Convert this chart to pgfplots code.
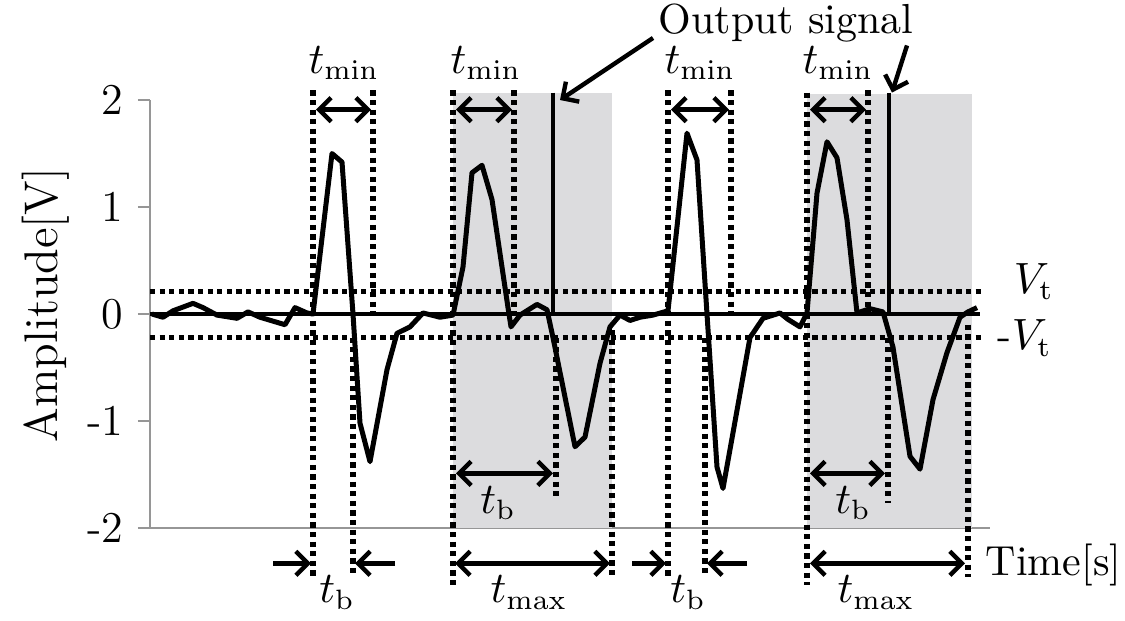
\documentclass[border=0pt]{standalone}
\usepackage{pgfplots}
\pgfplotsset{compat=1.18}
\usetikzlibrary{arrows.meta}
\definecolor{shade}{RGB}{220,220,222}
\definecolor{axgray}{RGB}{150,150,150}
\begin{document}
\fontsize{10.5}{12.6}\selectfont
\begin{tikzpicture}[
  dots/.style={line width=1.3pt, dash pattern=on 1.3pt off 1.1pt},
  arr/.style={line width=1.1pt, -{Straight Barb[length=3pt,width=6pt]}},
  darr/.style={line width=1.1pt, {Straight Barb[length=3pt,width=6pt]}-{Straight Barb[length=3pt,width=6pt]}}
]
\begin{axis}[
  scale only axis, width=210pt, height=107pt,
  xmin=150, xmax=990, ymin=-2, ymax=2,
  clip=false,
  axis x line*=bottom, axis y line*=left,
  axis line style={axgray, line width=0.5pt},
  xtick=\empty,
  ytick={-2,-1,0,1,2}, yticklabels={-2,-1,0,1,2},
  tick style={axgray, line width=0.5pt}, tick align=outside, major tick length=3pt,
  yticklabel style={font=\fontsize{11}{13}\selectfont, text=black},
]
% bounding box in pixel frame
\path (axis cs:0,2.935) rectangle (axis cs:1125,-2.86);
% shaded regions
\addplot[fill=shade, draw=none] coordinates {(453,-2) (453,2.07) (612,2.07) (612,-2)} -- cycle;
\addplot[fill=shade, draw=none] coordinates {(807,-2) (807,2.06) (972,2.06) (972,-2)} -- cycle;
% threshold lines
\draw[dots] (axis cs:150,0.21) -- (axis cs:982,0.21);
\draw[dots] (axis cs:150,-0.22) -- (axis cs:982,-0.22);
% vertical dotted lines
\draw[dots] (axis cs:313,2.09) -- (axis cs:313,-2.46);
\draw[dots] (axis cs:373,2.09) -- (axis cs:373,0);
\draw[dots] (axis cs:353,-0.22) -- (axis cs:353,-2.46);
\draw[dots] (axis cs:453,2.09) -- (axis cs:453,-2.53);
\draw[dots] (axis cs:514,2.09) -- (axis cs:514,0);
\draw[dots] (axis cs:556,-0.22) -- (axis cs:556,-1.74);
\draw[dots] (axis cs:612,-0.15) -- (axis cs:612,-2.46);
\draw[dots] (axis cs:668,2.09) -- (axis cs:668,-2.46);
\draw[dots] (axis cs:731,2.09) -- (axis cs:731,0);
\draw[dots] (axis cs:705,-0.22) -- (axis cs:705,-2.46);
\draw[dots] (axis cs:807,2.07) -- (axis cs:807,-2.53);
\draw[dots] (axis cs:868,2.09) -- (axis cs:868,0);
\draw[dots] (axis cs:888,-0.22) -- (axis cs:888,-1.77);
\draw[dots] (axis cs:968,-0.10) -- (axis cs:968,-2.46);
% zero line
\draw[line width=1.2pt] (axis cs:150,0) -- (axis cs:980,0);
% output signal lines
\draw[line width=1.1pt] (axis cs:553,2.07) -- (axis cs:553,0);
\draw[line width=1.1pt] (axis cs:889,2.07) -- (axis cs:889,0);
% signal
\addplot[black, line width=1.25pt, line join=round] coordinates {
(152,0.0) (163,-0.03) (173,0.03) (193,0.10) (203,0.06) (217,-0.01) (237,-0.04)
(248,0.02) (260,-0.03) (285,-0.10) (295,0.06) (307,0.01) (313,0.0)
(332,1.50) (342,1.42) (353,0.0) (360,-1.02) (370,-1.38) (387,-0.52) (397,-0.18)
(410,-0.12) (423,0.01) (440,-0.03) (453,-0.01) (463,0.44) (472,1.32) (482,1.39)
(492,1.07) (508,0.06) (511,-0.12) (520,-0.01) (537,0.09) (547,0.04) (553,-0.22)
(575,-1.24) (585,-1.15) (600,-0.46) (610,-0.12) (620,-0.01) (630,-0.06) (640,-0.03)
(653,-0.01) (668,0.03) (687,1.69) (697,1.44) (707,0.0) (717,-1.43) (723,-1.63)
(733,-1.11) (750,-0.22) (763,-0.04) (780,0.01) (788,-0.05) (800,-0.12) (807,0.01)
(817,1.13) (827,1.61) (837,1.46) (847,0.88) (857,0.01) (870,0.05) (883,0.02)
(893,-0.31) (910,-1.33) (920,-1.45) (933,-0.80) (947,-0.36) (960,-0.03) (968,0.02)
(977,0.06)
};
% t_min arrows and labels
\draw[darr] (axis cs:316,1.91) -- (axis cs:371,1.91);
\draw[darr] (axis cs:456,1.91) -- (axis cs:512,1.91);
\draw[darr] (axis cs:671,1.91) -- (axis cs:729,1.91);
\draw[darr] (axis cs:810,1.91) -- (axis cs:866,1.91);
\node[anchor=base, inner sep=0pt] at (axis cs:344,2.25) {$t_{\mathrm{min}}$};
\node[anchor=base, inner sep=0pt] at (axis cs:486,2.25) {$t_{\mathrm{min}}$};
\node[anchor=base, inner sep=0pt] at (axis cs:700,2.25) {$t_{\mathrm{min}}$};
\node[anchor=base, inner sep=0pt] at (axis cs:838,2.25) {$t_{\mathrm{min}}$};
% t_b inner arrows
\draw[darr] (axis cs:456,-1.49) -- (axis cs:553,-1.49);
\draw[darr] (axis cs:810,-1.49) -- (axis cs:885,-1.49);
\node[anchor=base, inner sep=0pt] at (axis cs:498,-1.86) {$t_{\mathrm{b}}$};
\node[anchor=base, inner sep=0pt] at (axis cs:853,-1.86) {$t_{\mathrm{b}}$};
% bottom arrows
\draw[arr] (axis cs:273,-2.33) -- (axis cs:311,-2.33);
\draw[arr] (axis cs:395,-2.33) -- (axis cs:355,-2.33);
\draw[darr] (axis cs:455,-2.33) -- (axis cs:610,-2.33);
\draw[arr] (axis cs:632,-2.33) -- (axis cs:666,-2.33);
\draw[arr] (axis cs:747,-2.33) -- (axis cs:707,-2.33);
\draw[darr] (axis cs:810,-2.33) -- (axis cs:965,-2.33);
\node[anchor=base, inner sep=0pt] at (axis cs:337,-2.70) {$t_{\mathrm{b}}$};
\node[anchor=base, inner sep=0pt] at (axis cs:529,-2.70) {$t_{\mathrm{max}}$};
\node[anchor=base, inner sep=0pt] at (axis cs:688,-2.70) {$t_{\mathrm{b}}$};
\node[anchor=base, inner sep=0pt] at (axis cs:876,-2.70) {$t_{\mathrm{max}}$};
% threshold labels
\node[anchor=base west, inner sep=0pt] at (axis cs:1013,0.196) {$V_{\mathrm{t}}$};
\node[anchor=base west, inner sep=0pt] at (axis cs:997,-0.336) {-$V_{\mathrm{t}}$};
% axis labels
\node[anchor=base west, inner sep=0pt] at (axis cs:985,-2.44) {Time[s]};
\node[rotate=90, inner sep=0pt, font=\fontsize{11.8}{14}\selectfont] at (axis cs:46,0.084) {Amplitude[V]};
% output signal
\node[anchor=base west, inner sep=0pt] at (axis cs:658,2.626) {Output signal};
\draw[arr] (axis cs:653,2.58) -- (axis cs:560,2.0);
\draw[arr] (axis cs:907,2.51) -- (axis cs:892,2.07);
\end{axis}
\end{tikzpicture}
\end{document}
